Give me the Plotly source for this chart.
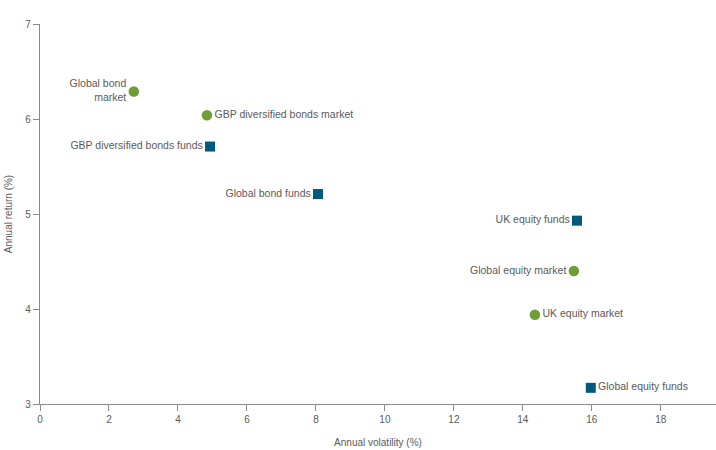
import plotly.graph_objects as go

market_names = ["Global bond<br>market", "GBP diversified bonds market", "Global equity market", "UK equity market"]
market_vol = [2.72, 4.84, 15.48, 14.35]
market_ret = [6.29, 6.04, 4.40, 3.94]
market_pos = ["middle left", "middle right", "middle left", "middle right"]

fund_names = ["GBP diversified bonds funds", "Global bond funds", "UK equity funds", "Global equity funds"]
fund_vol = [4.93, 8.06, 15.57, 15.97]
fund_ret = [5.71, 5.21, 4.93, 3.17]
fund_pos = ["middle left", "middle left", "middle left", "middle right"]

x_ticks = [0, 2, 4, 6, 8, 10, 12, 14, 16, 18]
y_ticks = [3, 4, 5, 6, 7]

GREEN = "#6e9e35"
BLUE = "#005a7c"
TEXT = "#5a5a5a"
AXIS = "#8a8a8a"
FONT = "Liberation Sans, Arial, sans-serif"

fig = go.Figure()
fig.add_trace(go.Scatter(
    x=market_vol, y=market_ret, mode="markers+text", text=market_names,
    textposition=market_pos, textfont=dict(size=10.5, color=TEXT, family=FONT),
    marker=dict(symbol="circle", size=10.5, color=GREEN), showlegend=False, cliponaxis=False))
fig.add_trace(go.Scatter(
    x=fund_vol, y=fund_ret, mode="markers+text", text=fund_names,
    textposition=fund_pos, textfont=dict(size=10.5, color=TEXT, family=FONT),
    marker=dict(symbol="square", size=10, color=BLUE), showlegend=False, cliponaxis=False))

fig.update_layout(
    width=716, height=450,
    margin=dict(l=40, r=0, t=24, b=46),
    paper_bgcolor="white", plot_bgcolor="white",
    font=dict(family=FONT, color=TEXT, size=10),
    xaxis=dict(range=[0, 19.6], tickvals=x_ticks, showgrid=False, zeroline=False,
               showline=True, linecolor=AXIS, linewidth=1.2, ticks="outside",
               ticklen=6, tickcolor=AXIS, tickfont=dict(size=10, color=TEXT),
               title=dict(text="Annual volatility (%)", font=dict(size=10, color=TEXT), standoff=14)),
    yaxis=dict(range=[3, 7], tickvals=y_ticks, showgrid=False, zeroline=False,
               showline=True, linecolor=AXIS, linewidth=1.2, ticks="outside",
               ticklen=6, tickcolor=AXIS, tickfont=dict(size=10, color=TEXT),
               title=dict(text="Annual return (%)", font=dict(size=10, color=TEXT), standoff=10)),
)

fig.write_html("out.html")
